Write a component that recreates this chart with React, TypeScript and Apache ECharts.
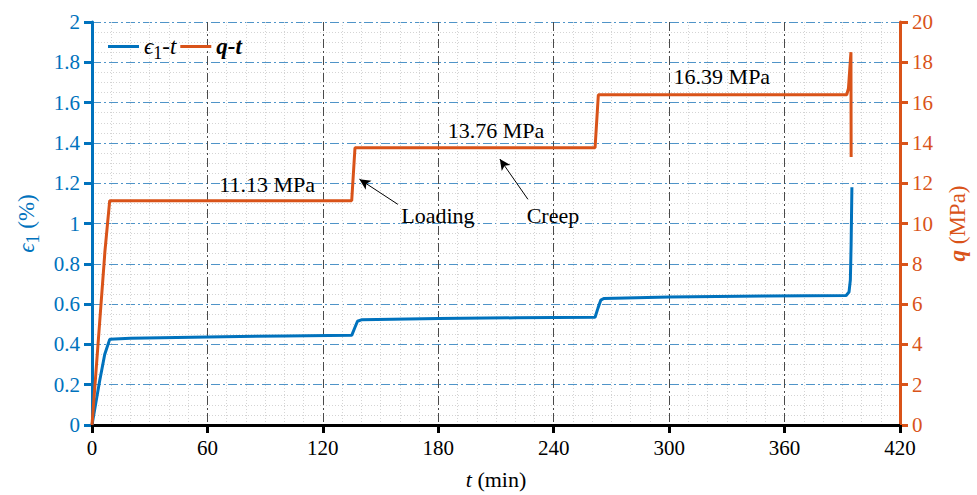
import React, { useEffect, useRef } from "react";
import * as echarts from "echarts";

// ε1 (%) vs t (min)
const epsTime = [0, 2, 4, 6.6, 9.2, 20, 60, 100, 135, 136.5, 138, 140, 180, 220, 261.5, 263, 264.5, 266, 300, 350, 392, 393.5, 394.2, 394.6, 395];
const epsValue = [0, 0.11, 0.22, 0.35, 0.425, 0.43, 0.437, 0.442, 0.445, 0.48, 0.515, 0.522, 0.528, 0.532, 0.535, 0.58, 0.62, 0.628, 0.635, 0.64, 0.643, 0.66, 0.72, 0.9, 1.18];

// q (MPa) vs t (min)
const qTime = [0, 6.4, 6.7, 9.2, 135, 136.7, 261.5, 263.2, 392.3, 393.2, 394.5, 394.6];
const qValue = [0, 8.2, 8.6, 11.13, 11.13, 13.76, 13.76, 16.39, 16.39, 16.7, 18.5, 13.3];

const xTicks = { min: 0, max: 420, interval: 60 };
const yLeftTicks = { min: 0, max: 2, interval: 0.2 };
const yRightTicks = { min: 0, max: 20, interval: 2 };

const stageLabels = ["11.13 MPa", "13.76 MPa", "16.39 MPa"];
const stageLabelPos = [[91, 11.95], [210, 14.62], [327.4, 17.28]];
const noteLabels = ["Loading", "Creep"];
const noteLabelPos = [[179.8, 10.4], [239.6, 10.4]];
const arrowFrom = [[159, 10.95], [226.6, 11.2]];
const arrowTo = [[139, 12.2], [212, 13.2]];

const BLUE = "#0072BD";
const ORANGE = "#D95319";
const FONT = "Liberation Serif";

export default function App() {
  const ref = useRef<HTMLDivElement>(null);
  useEffect(() => {
    if (!ref.current) return;
    const chart = echarts.init(ref.current, null, { renderer: "svg" });
    const epsData = epsTime.map((t, i) => [t, epsValue[i]]);
    const qData = qTime.map((t, i) => [t, qValue[i]]);
    const richBase = (color: string, size: number) => ({
      i: { fontStyle: "italic", fontSize: size, fontFamily: FONT, color },
      b: { fontStyle: "italic", fontWeight: "bold", fontSize: size, fontFamily: FONT, color },
      s: { fontSize: size * 0.78, fontFamily: FONT, color, padding: [size * 0.6, 0, 0, 0] },
      n: { fontSize: size, fontFamily: FONT, color },
    });
    chart.setOption({
      animation: false,
      backgroundColor: "#fff",
      grid: { left: 92, right: 77, top: 22, bottom: 68, containLabel: false },
      legend: {
        left: 103,
        top: 30,
        icon: "rect",
        itemWidth: 31,
        itemHeight: 3,
        itemGap: 4,
        data: ["ϵ1-t", "q-t"],
        formatter: (name: string) => (name === "ϵ1-t" ? "{i|ϵ}{s|1}{i|-t}" : "{b|q-t}"),
        textStyle: { rich: richBase("#000", 23) as any },
      },
      xAxis: {
        type: "value",
        min: xTicks.min,
        max: xTicks.max,
        interval: xTicks.interval,
        name: "{i|t}{n| (min)}",
        nameLocation: "middle",
        nameGap: 43,
        nameTextStyle: { rich: richBase("#000", 22) as any },
        axisLine: { show: true, lineStyle: { color: "#000", width: 3 } },
        axisTick: { show: true, length: 8, lineStyle: { color: "#000", width: 3 } },
        axisLabel: { color: "#000", fontSize: 21, fontFamily: FONT, margin: 12 },
        splitLine: { show: true, lineStyle: { color: "#4a4a4a", width: 1, type: [9, 3, 2, 3] } },
        minorTick: { show: false, splitNumber: 6 },
        minorSplitLine: { show: true, lineStyle: { color: "#d4d4d4", width: 1, type: [1, 2] } },
      },
      yAxis: [
        {
          type: "value",
          position: "left",
          min: yLeftTicks.min,
          max: yLeftTicks.max,
          interval: yLeftTicks.interval,
          name: "{i|ϵ}{s|1}{n| (%)}",
          nameLocation: "middle",
          nameGap: 50,
          nameRotate: 90,
          nameTextStyle: { rich: richBase(BLUE, 23) as any },
          axisLine: { show: true, lineStyle: { color: BLUE, width: 3 } },
          axisTick: { show: true, length: 8, lineStyle: { color: BLUE, width: 3 } },
          axisLabel: { color: BLUE, fontSize: 21, fontFamily: FONT, margin: 12 },
          splitLine: { show: true, lineStyle: { color: "#4f94c8", width: 1, type: [9, 3, 2, 3] } },
          minorTick: { show: false, splitNumber: 4 },
          minorSplitLine: { show: true, lineStyle: { color: "#d4d4d4", width: 1, type: [1, 2] } },
        },
        {
          type: "value",
          position: "right",
          min: yRightTicks.min,
          max: yRightTicks.max,
          interval: yRightTicks.interval,
          name: "{b|q}{n| (MPa)}",
          nameLocation: "middle",
          nameGap: 46,
          nameRotate: 90,
          nameTextStyle: { rich: richBase(ORANGE, 23) as any },
          axisLine: { show: true, lineStyle: { color: ORANGE, width: 3 } },
          axisTick: { show: true, length: 8, lineStyle: { color: ORANGE, width: 3 } },
          axisLabel: { color: ORANGE, fontSize: 21, fontFamily: FONT, margin: 12 },
          splitLine: { show: false },
        },
      ],
      series: [
        {
          name: "ϵ1-t",
          type: "line",
          yAxisIndex: 0,
          data: epsData,
          symbol: "none",
          lineStyle: { color: BLUE, width: 3 },
          itemStyle: { color: BLUE },
          z: 3,
        },
        {
          name: "q-t",
          type: "line",
          yAxisIndex: 1,
          data: qData,
          symbol: "none",
          lineStyle: { color: ORANGE, width: 3 },
          itemStyle: { color: ORANGE },
          z: 3,
          markLine: {
            silent: true,
            symbol: ["none", "arrow"],
            symbolSize: [8, 11],
            lineStyle: { color: "#000", width: 1, type: "solid" },
            label: { show: false },
            data: arrowFrom.map((f, i) => [{ coord: f }, { coord: arrowTo[i] }]),
          },
          markPoint: {
            silent: true,
            symbol: "rect",
            symbolSize: 1,
            itemStyle: { color: "rgba(0,0,0,0)" },
            label: {
              show: true,
              position: "inside",
              formatter: "{b}",
              color: "#000",
              fontSize: 22,
              fontFamily: FONT,
            },
            data: [
              ...stageLabels.map((s, i) => ({ name: s, coord: stageLabelPos[i] })),
              ...noteLabels.map((s, i) => ({ name: s, coord: noteLabelPos[i] })),
            ],
          },
        },
      ],
    });
    return () => chart.dispose();
  }, []);
  return (
    <div
      ref={ref}
      style={{ position: "absolute", left: 0, top: 0, width: 977, height: 495, background: "#fff" }}
    />
  );
}
